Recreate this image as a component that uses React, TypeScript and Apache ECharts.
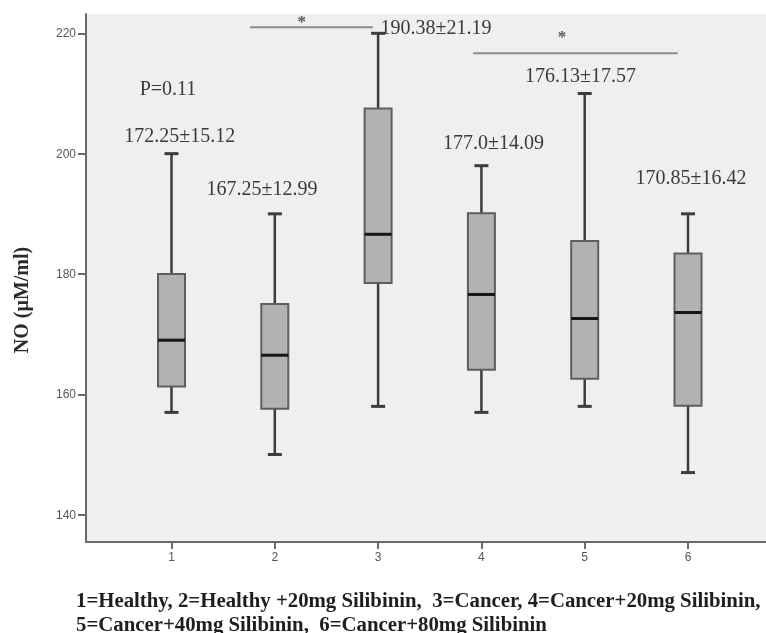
import React, { useEffect, useRef } from "react";
import * as echarts from "echarts";

// Group positions (1..6) and box statistics (µM/ml)
const groups = [1, 2, 3, 4, 5, 6];
const whiskerMin = [157, 150, 158, 157, 158, 147];
const q1 = [161.3, 157.6, 178.5, 164.1, 162.6, 158.1];
const median = [169, 166.5, 186.6, 176.6, 172.6, 173.6];
const q3 = [180, 175, 207.5, 190.1, 185.5, 183.4];
const whiskerMax = [200, 190, 220, 198, 210, 190];

const yTicks = [140, 160, 180, 200, 220];
const xTicks = [1, 2, 3, 4, 5, 6];

// Text annotations placed in data coordinates
const noteText = [
  "P=0.11",
  "172.25±15.12",
  "167.25±12.99",
  "190.38±21.19",
  "177.0±14.09",
  "176.13±17.57",
  "170.85±16.42",
];
const noteX = [0.966, 1.08, 1.876, 3.56, 4.117, 4.96, 6.03];
const noteY = [210.9, 203.1, 194.3, 221.1, 201.9, 213.1, 196.1];

// Significance bars
const sigFrom = [1.76, 3.92];
const sigTo = [2.95, 5.9];
const sigY = [221.0, 216.7];
const sigStarX = [2.26, 4.78];
const sigStarY = [222.0, 219.4];

const captionLines = [
  "1=Healthy, 2=Healthy +20mg Silibinin,  3=Cancer, 4=Cancer+20mg Silibinin,",
  "5=Cancer+40mg Silibinin,  6=Cancer+80mg Silibinin",
];

const SERIF = "'Liberation Serif', 'Times New Roman', serif";
const SANS = "'Liberation Sans', Arial, sans-serif";

export default function App() {
  const ref = useRef<HTMLDivElement>(null);

  useEffect(() => {
    if (!ref.current) return;
    const chart = echarts.init(ref.current, undefined, { renderer: "svg" });

    const boxData = groups.map((g, i) => [g, whiskerMin[i], q1[i], median[i], q3[i], whiskerMax[i]]);
    const noteData = noteText.map((t, i) => [noteX[i], noteY[i], i]);
    const sigData = sigFrom.map((f, i) => [f, sigTo[i], sigY[i], sigStarX[i], sigStarY[i]]);

    chart.setOption({
      animation: false,
      grid: {
        left: 86,
        right: 0,
        top: 14,
        bottom: 91,
        show: true,
        backgroundColor: "#efefef",
        borderWidth: 0,
      },
      xAxis: {
        type: "value",
        min: 0.1723,
        max: 6.755,
        splitLine: { show: false },
        axisLine: { show: true, onZero: false, lineStyle: { color: "#6a6a6a", width: 2 } },
        axisTick: { show: true, customValues: xTicks, length: 7, lineStyle: { color: "#6a6a6a", width: 2 } },
        axisLabel: {
          customValues: xTicks,
          color: "#555",
          fontFamily: SANS,
          fontSize: 12,
          margin: 9,
        },
      },
      yAxis: {
        type: "value",
        min: 135.46,
        max: 223.21,
        splitLine: { show: false },
        axisLine: { show: true, onZero: false, lineStyle: { color: "#6a6a6a", width: 2 } },
        axisTick: { show: true, customValues: yTicks, length: 8, lineStyle: { color: "#6a6a6a", width: 2 } },
        axisLabel: {
          customValues: yTicks,
          color: "#555",
          fontFamily: SANS,
          fontSize: 12,
          margin: 10,
        },
      },
      series: [
        {
          type: "custom",
          name: "NO",
          data: boxData,
          encode: { x: 0, y: [1, 2, 3, 4, 5] },
          clip: false,
          renderItem: (params: any, api: any) => {
            const x = api.value(0);
            const pMin = api.coord([x, api.value(1)]);
            const pQ1 = api.coord([x, api.value(2)]);
            const pMed = api.coord([x, api.value(3)]);
            const pQ3 = api.coord([x, api.value(4)]);
            const pMax = api.coord([x, api.value(5)]);
            const cx = pMed[0];
            const half = 13.5;
            const cap = 7;
            const whisker = { stroke: "#3c3c3c", lineWidth: 2.5 };
            const capStyle = { stroke: "#3c3c3c", lineWidth: 3 };
            return {
              type: "group",
              children: [
                { type: "line", shape: { x1: cx, y1: pMax[1], x2: cx, y2: pQ3[1] }, style: whisker },
                { type: "line", shape: { x1: cx, y1: pQ1[1], x2: cx, y2: pMin[1] }, style: whisker },
                { type: "line", shape: { x1: cx - cap, y1: pMax[1], x2: cx + cap, y2: pMax[1] }, style: capStyle },
                { type: "line", shape: { x1: cx - cap, y1: pMin[1], x2: cx + cap, y2: pMin[1] }, style: capStyle },
                {
                  type: "rect",
                  shape: { x: cx - half, y: pQ3[1], width: half * 2, height: pQ1[1] - pQ3[1] },
                  style: { fill: "#b2b2b2", stroke: "#5e5e5e", lineWidth: 2 },
                },
                {
                  type: "line",
                  shape: { x1: cx - half, y1: pMed[1], x2: cx + half, y2: pMed[1] },
                  style: { stroke: "#161616", lineWidth: 3 },
                },
              ],
            };
          },
        },
        {
          type: "custom",
          name: "sig",
          data: sigData,
          encode: { x: [0, 1, 3], y: [2, 4] },
          clip: false,
          silent: true,
          renderItem: (params: any, api: any) => {
            const p1 = api.coord([api.value(0), api.value(2)]);
            const p2 = api.coord([api.value(1), api.value(2)]);
            const ps = api.coord([api.value(3), api.value(4)]);
            return {
              type: "group",
              children: [
                {
                  type: "line",
                  shape: { x1: p1[0], y1: p1[1], x2: p2[0], y2: p2[1] },
                  style: { stroke: "#8c8c8c", lineWidth: 2 },
                },
                {
                  type: "text",
                  x: ps[0],
                  y: ps[1],
                  style: {
                    text: "*",
                    fill: "#555",
                    font: `bold 17px ${SERIF}`,
                    align: "center",
                    verticalAlign: "middle",
                  },
                },
              ],
            };
          },
        },
        {
          type: "custom",
          name: "notes",
          data: noteData,
          encode: { x: 0, y: 1 },
          clip: false,
          silent: true,
          renderItem: (params: any, api: any) => {
            const p = api.coord([api.value(0), api.value(1)]);
            const idx = api.value(2);
            return {
              type: "text",
              x: p[0],
              y: p[1],
              style: {
                text: noteText[idx],
                fill: "#3a3a3a",
                font: `20px ${SERIF}`,
                align: "center",
                verticalAlign: "middle",
              },
            };
          },
        },
      ],
      graphic: [
        {
          type: "text",
          x: 21,
          y: 300,
          rotation: Math.PI / 2,
          style: {
            text: "NO (µM/ml)",
            fill: "#2a2a2a",
            font: `bold 20px ${SERIF}`,
            align: "center",
            verticalAlign: "middle",
          },
        },
        {
          type: "text",
          x: 76,
          y: 599,
          style: {
            text: captionLines[0],
            fill: "#1e1e1e",
            font: `bold 20.8px ${SERIF}`,
            align: "left",
            verticalAlign: "middle",
          },
        },
        {
          type: "text",
          x: 76,
          y: 623,
          style: {
            text: captionLines[1],
            fill: "#1e1e1e",
            font: `bold 20.8px ${SERIF}`,
            align: "left",
            verticalAlign: "middle",
          },
        },
      ],
    });

    return () => chart.dispose();
  }, []);

  return (
    <div
      ref={ref}
      style={{ position: "fixed", left: 0, top: 0, width: 766, height: 633 }}
    />
  );
}
